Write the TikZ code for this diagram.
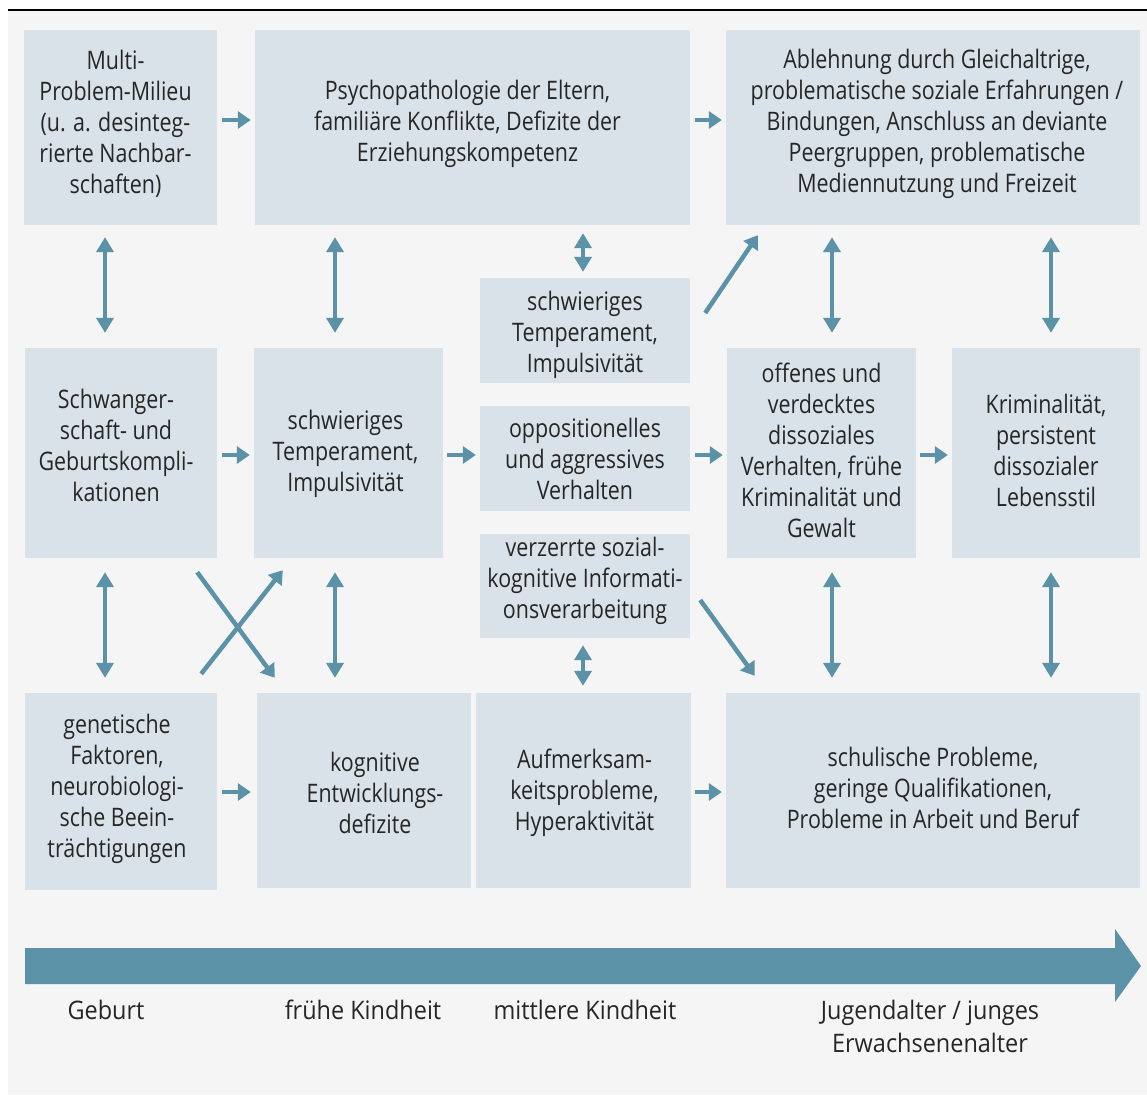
\documentclass[tikz,border=0pt]{standalone}
\usepackage{fontspec}
\setmainfont{Open Sans}[FakeStretch=0.84]
\newfontfamily\labfam{Open Sans}[FakeStretch=0.92]
\usetikzlibrary{arrows.meta}
\definecolor{bgc}{HTML}{F5F5F5}
\definecolor{boxc}{HTML}{DAE2E9}
\definecolor{arrc}{HTML}{5B92A8}
\definecolor{txt}{HTML}{262626}
\newcommand\bodyfont{\fontsize{25.5}{31}\selectfont}
\newcommand\labfont{\labfam\fontsize{25.5}{33}\selectfont}
\tikzset{
 box/.style={fill=boxc, inner sep=0pt},
 btxt/.style={inner sep=0pt, align=center, text=txt, font=\bodyfont},
 lbl/.style={inner sep=0pt, align=center, text=txt, font=\labfont},
 arr/.style={draw=arrc, line width=4.5pt, -{Triangle[length=13pt,width=17pt]}},
 darr/.style={draw=arrc, line width=4.5pt, {Triangle[length=15pt,width=17pt]}-{Triangle[length=15pt,width=17pt]}},
}
\begin{document}
\begin{tikzpicture}[x=1pt,y=-1pt]
\useasboundingbox (0,0) rectangle (1147,1095);
\fill[bgc] (8,10) rectangle (1147,1095);
\draw[black, line width=2pt] (8,9.5) -- (1147,9.5);
% boxes
\node[box, minimum width=193pt, minimum height=195pt, label={[btxt,xshift=-5pt,yshift=3.5pt]center:{Multi-\\Problem-Milieu\\(u. a. desinteg-\\rierte Nachbar-\\schaften)}}] (A) at (120.5,127.5) {};
\node[box, minimum width=435pt, minimum height=195pt, label={[btxt,xshift=-5pt,yshift=3.5pt]center:{Psychopathologie der Eltern,\\familiäre Konflikte, Defizite der\\Erziehungskompetenz}}] (B) at (472.5,127.5) {};
\node[box, minimum width=414pt, minimum height=195pt, label={[btxt,xshift=4pt,yshift=3.5pt]center:{Ablehnung durch Gleichaltrige,\\problematische soziale Erfahrungen /\\Bindungen, Anschluss an deviante\\Peergruppen, problematische\\Mediennutzung und Freizeit}}] (C) at (933,127.5) {};
\node[box, minimum width=192pt, minimum height=210pt, label={[btxt,xshift=-5pt,yshift=8pt]center:{Schwanger-\\schaft- und\\Geburtskompli-\\kationen}}] (D) at (121,453) {};
\node[box, minimum width=189pt, minimum height=210pt, label={[btxt,xshift=-3pt,yshift=-1pt]center:{schwieriges\\Temperament,\\Impulsivität}}] (E) at (348.5,453) {};
\node[box, minimum width=210pt, minimum height=105pt, label={[btxt,yshift=-4.5pt]center:{schwieriges\\Temperament,\\Impulsivität}}] (F) at (585,330.5) {};
\node[box, minimum width=210pt, minimum height=105pt, label={[btxt]center:{oppositionelles\\und aggressives\\Verhalten}}] (G) at (585,458.5) {};
\node[box, minimum width=210pt, minimum height=104pt, label={[btxt,yshift=5.5pt]center:{verzerrte sozial-\\kognitive Informati-\\onsverarbeitung}}] (H) at (585,586) {};
\node[box, minimum width=189pt, minimum height=210pt, label={[btxt,yshift=3pt]center:{offenes und\\verdecktes\\dissoziales\\Verhalten, frühe\\Kriminalität und\\Gewalt}}] (I) at (821.5,453) {};
\node[box, minimum width=188pt, minimum height=210pt, label={[btxt,yshift=2.5pt]center:{Kriminalität,\\persistent\\dissozialer\\Lebensstil}}] (J) at (1046,453) {};
\node[box, minimum width=192pt, minimum height=197pt, label={[btxt,xshift=-4pt,yshift=3pt]center:{genetische\\Faktoren,\\neurobiologi-\\sche Beein-\\trächtigungen}}] (K) at (121,791.5) {};
\node[box, minimum width=214pt, minimum height=195pt, label={[btxt,xshift=11pt,yshift=-2pt]center:{kognitive\\Entwicklungs-\\defizite}}] (L) at (364,790.5) {};
\node[box, minimum width=215pt, minimum height=195pt, label={[btxt,xshift=1pt,yshift=-2pt]center:{Aufmerksam-\\keitsprobleme,\\Hyperaktivität}}] (M) at (583.5,790.5) {};
\node[box, minimum width=414pt, minimum height=195pt, label={[btxt,yshift=2.5pt]center:{schulische Probleme,\\geringe Qualifikationen,\\Probleme in Arbeit und Beruf}}] (N) at (933,790.5) {};
% horizontal arrows
\draw[arr] ([shift={(5,-7.5)}]A.east) -- ([shift={(-4,-7.5)}]B.west);
\draw[arr] ([shift={(5,-7.5)}]B.east) -- ([shift={(-4,-7.5)}]C.west);
\draw[arr] ([shift={(5,2)}]D.east) -- ([shift={(-4,2)}]E.west);
\draw[arr] ([shift={(4,2)}]E.east) -- ([shift={(-4,-3.5)}]G.west);
\draw[arr] ([shift={(5,-3.5)}]G.east) -- ([shift={(-4,2)}]I.west);
\draw[arr] ([shift={(4,2)}]I.east) -- ([shift={(-4,2)}]J.west);
\draw[arr] ([shift={(5,0.5)}]K.east) -- ([shift={(-6,1.5)}]L.west);
\draw[arr] ([shift={(4,1.5)}]M.east) -- ([shift={(-4,1.5)}]N.west);
% vertical double arrows
\draw[darr] ([shift={(-15.5,12)}]A.south) -- ([shift={(-16,-15)}]D.north);
\draw[darr] ([shift={(-137.5,12)}]B.south) -- ([shift={(-13.5,-15)}]E.north);
\draw[darr] ([shift={(110.5,8)}]B.south) -- ([shift={(-2,-6)}]F.north);
\draw[darr] ([shift={(-101,12)}]C.south) -- ([shift={(10.5,-15)}]I.north);
\draw[darr] ([shift={(118,12)}]C.south) -- ([shift={(5,-15)}]J.north);
\draw[darr] ([shift={(-16,14)}]D.south) -- ([shift={(-16,-15)}]K.north);
\draw[darr] ([shift={(-13.5,14)}]E.south) -- ([shift={(-29,-15)}]L.north);
\draw[darr] ([shift={(-2,7)}]H.south) -- ([shift={(-0.5,-7)}]M.north);
\draw[darr] ([shift={(10.5,14)}]I.south) -- ([shift={(-101,-15)}]N.north);
\draw[darr] ([shift={(5,14)}]J.south) -- ([shift={(118,-15)}]N.north);
% diagonal arrows
\draw[arr] ([shift={(15,-17.5)}]F.east) -- ([shift={(32,10)}]C.south west);
\draw[arr] ([shift={(-20,14)}]D.south east) -- ([shift={(18,-15)}]L.north west);
\draw[arr] ([shift={(-16,-19)}]K.north east) -- ([shift={(29,12)}]E.south west);
\draw[arr] ([shift={(10,14)}]H.east) -- ([shift={(29,-17)}]N.north west);
% time arrow
\fill[arrc] (25,948) -- (1115,948) -- (1115,929) -- (1141,966) -- (1115,1002) -- (1115,984) -- (25,984) -- cycle;
\node[lbl] (t1) at (106,1010) {Geburt};
\node[lbl] (t2) at (363,1010) {frühe Kindheit};
\node[lbl] (t3) at (585,1010) {mittlere Kindheit};
\node[lbl] (t4) at (930,1026) {Jugendalter / junges\\Erwachsenenalter};
\end{tikzpicture}
\end{document}
